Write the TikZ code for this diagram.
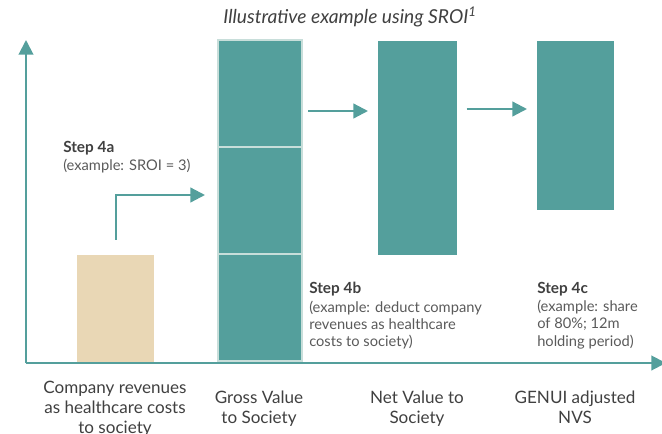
\documentclass[tikz,border=0pt]{standalone}
\usepackage{fontspec}
\setmainfont{Lato}
\definecolor{barteal}{RGB}{84, 159, 156}
\definecolor{barsand}{RGB}{233, 215, 181}
\definecolor{edgemint}{RGB}{200, 222, 218}
\definecolor{labelgray}{RGB}{64, 64, 64}
\definecolor{notegray}{RGB}{90, 90, 90}
\usetikzlibrary{arrows.meta, calc}

\begin{document}
\begin{tikzpicture}[x=0.75pt, y=-0.75pt,
  bar/.style={fill=barteal, inner sep=0pt, anchor=south west},
  flow/.style={draw=barteal, line width=1.7pt, -{Triangle[length=11pt, width=11pt]}},
  axisline/.style={draw=barteal, line width=1.5pt, -{Triangle[length=11pt, width=11pt]}},
  catlabel/.style={font=\fontsize{12.8}{15}\selectfont, text=labelgray, align=center, anchor=north, inner sep=0pt},
  stepnote/.style={font=\fontsize{11}{12.8}\selectfont, text=notegray, align=left, anchor=north west, inner sep=0pt}]
  \useasboundingbox (0,0) rectangle (662,433);

  % Title
  \node[text=labelgray, font=\fontsize{14.4}{16}\selectfont\itshape] (title) at (350,17) {Illustrative example using SROI\textsuperscript{1}};

  % Axes
  \coordinate (origin) at (26,363);
  \coordinate (ytop) at (26,40);
  \coordinate (xend) at (666,363);
  \draw[axisline] (origin) -- (ytop);
  \draw[axisline] (origin) -- (xend);

  % Bars
  \node[bar, fill=barsand, minimum width=57.75pt, minimum height=80.25pt] (sand) at (77,362) {};
  \node[bar, draw=edgemint, line width=1.5pt, minimum width=63pt, minimum height=80.25pt] (g1) at (217,362) {};
  \node[bar, draw=edgemint, line width=1.5pt, minimum width=63pt, minimum height=80.25pt] (g2) at (217,255) {};
  \node[bar, draw=edgemint, line width=1.5pt, minimum width=63pt, minimum height=80.25pt] (g3) at (217,148) {};
  \node[bar, minimum width=59.25pt, minimum height=160.5pt] (net) at (378,255) {};
  \node[bar, minimum width=57.75pt, minimum height=126.75pt] (genui) at (537,210) {};

  % Step arrows
  \coordinate (lvl1) at (0,195);
  \coordinate (lvl2) at (0,111);
  \coordinate (lvl3) at (0,109);
  \draw[flow, shorten <=11pt, shorten >=9pt] (sand.north) |- (g2.west |- lvl1);
  \draw[flow, shorten <=4pt, shorten >=7.5pt] (g3.east |- lvl2) -- (net.west |- lvl2);
  \draw[flow, shorten <=6.75pt, shorten >=7.5pt] (net.east |- lvl3) -- (genui.west |- lvl3);

  % Step notes
  \node[stepnote] (step4a) at (63,141) {{\bfseries\fontsize{11.5}{13.5}\selectfont\color{labelgray}Step 4a}\\[1pt](example: SROI = 3)};
  \node[stepnote] (step4b) at (309,282) {{\bfseries\fontsize{11.5}{13.5}\selectfont\color{labelgray}Step 4b}\\[1pt](example: deduct company\\revenues as healthcare\\costs to society)};
  \node[stepnote] (step4c) at (537,282) {{\bfseries\fontsize{11.5}{13.5}\selectfont\color{labelgray}Step 4c}\\[1pt](example: share\\of 80\%; 12m\\holding period)};

  % Category labels
  \node[catlabel] (labsand) at (115,380.5) {Company revenues\\as healthcare costs\\to society};
  \node[catlabel] (labgross) at (259,390.5) {Gross Value\\to Society};
  \node[catlabel] (labnet) at (417,390.5) {Net Value to\\Society};
  \node[catlabel] (labgenui) at (575,390.5) {GENUI adjusted\\NVS};
\end{tikzpicture}
\end{document}
